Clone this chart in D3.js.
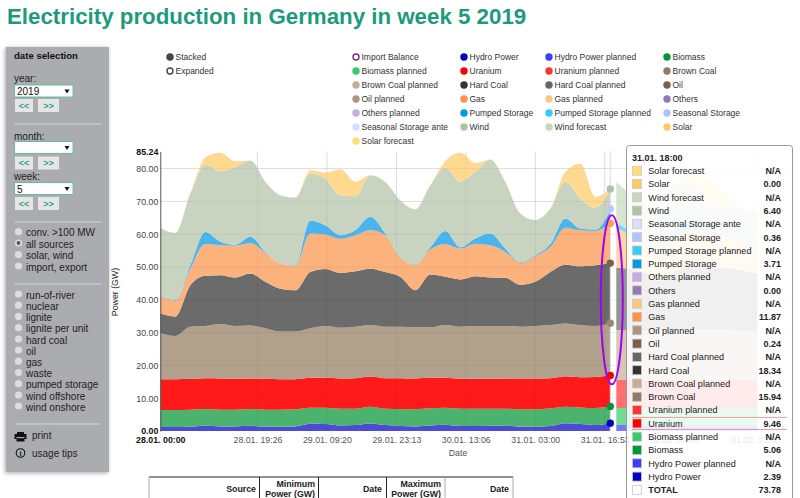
<!DOCTYPE html>
<html><head><meta charset="utf-8">
<script src="https://d3js.org/d3.v7.min.js"></script>
<style>html,body{margin:0;padding:0;background:#fff;overflow:hidden}svg{display:block;font-family:"Liberation Sans",Arial,sans-serif}</style>
</head><body><svg id="c" width="800" height="498"></svg>
<script>
// hours since 28.01. 00:00
const hours=[0,3,6,9,12,15,18,21,24,27,30,33,36,39,42,45,48,51,54,57,60,63,66,69,72,75,78,81,84,87,90];
const hydro=[1.2,1.2,1.3,1.6,1.4,1.4,1.6,1.3,1.3,1.4,2.2,2.1,1.7,1.8,2.3,1.8,1.5,1.4,1.7,1.9,1.5,1.5,1.6,1.6,1.3,1.3,1.5,2.4,2.1,1.8,2.39];
const biomass=[5.2,5.2,5.2,5.1,5.1,5.1,5.1,5.2,5.2,5.2,4.9,5.0,5.1,5.0,5.1,5.0,5.2,5.2,5.2,5.2,5.3,5.3,5.2,5.2,5.3,5.3,5.4,5.0,5.1,5.2,5.06];
const uranium=[9.4,9.4,9.4,9.4,9.5,9.4,9.3,9.4,9.3,9.2,9.1,9.1,9.2,9.3,9.2,9.3,9.4,9.4,9.3,9.1,9.1,9.1,9.1,9.2,9.4,9.4,9.2,9.3,9.2,9.5,9.46];
const brownCoal=[14.0,13.2,15.9,15.9,16.6,16.1,16.2,15.4,14.5,14.5,15.1,15.8,15.5,15.7,15.7,15.7,15.7,15.6,15.4,16.1,15.9,16.1,16.1,16,15.8,16,16.2,16.1,15.9,15.5,15.94];
const hardCoal=[6.1,5.9,12.6,15.3,14.9,14.8,15.8,14.2,13.1,12.6,17.2,17.4,16.7,16.9,17.2,16.7,15.2,11.3,16.1,14.7,14.4,15.2,14.8,14.7,12.8,13.5,16.2,17.9,17.9,18.5,18.34];
const gas=[5.3,4.8,5.1,9.7,9.1,9.7,9.3,8.8,7.6,7.5,11.7,10.5,10.4,11,11.7,11.2,5.8,7.8,7.6,9.9,9.4,9.9,9.8,7.9,6.7,7.8,7.6,11.3,11,10.5,12.11];
const pumped=[0.2,0.2,1.0,3.7,1.2,0.3,1.9,0.3,0,0.1,4.0,2.8,1.1,1.5,4.1,0.5,0.2,0.1,0.7,4.1,0.4,1.6,3.6,1.0,0.2,0.3,0.9,2.8,0.5,0.4,4.07];
const wind=[20.5,20.5,21.9,20.5,21.4,23.7,23.3,21.4,20.9,20.7,14.3,14.3,12.2,10.4,12.7,15.7,17.3,16.8,18.9,19.3,20,20.3,22.6,20.3,14.8,10.7,10.8,11.2,9.2,6.6,6.4];
const solar=[0,0,0,2.2,5.6,1.7,0,0,0,0,1,1.8,7.9,4.4,0,0,0,0,0,2,8.8,2.7,0,0,0,0,0,3,10.6,3.4,0];

const fcHours=[91.2,94,97,100,103,106,109,112,115,118,119.4];
const hydroPlanned=[1.8,1.8,1.8,1.8,1.8,1.8,1.8,1.8,1.8,1.8,1.8];
const biomassPlanned=[5.2,5.2,5.2,5.2,5.2,5.2,5.2,5.2,5.2,5.2,5.2];
const uraniumPlanned=[8.6,8.6,8.6,8.6,8.6,8.6,8.6,8.6,8.6,8.6,8.6];
const brownPlanned=[15.2,15.2,15.0,14.6,15.2,15.4,15.4,15.4,15.2,15.0,15.0];
const hardPlanned=[19.0,18.6,17.6,15.5,18.0,19.0,18.8,18.6,18.6,17.8,17.4];
const gasPlanned=[12.0,10.5,8.0,7.0,10.5,11.5,11.0,10.0,9.0,7.5,7.0];
const pumpedPlanned=[1.5,0.8,0.3,0.2,1.5,2.5,1.0,0.5,0.5,0.3,0.3];
const windForecast=[12.5,11.5,12.5,14.0,14.5,11.5,8.0,8.5,10.0,11.0,11.5];
const solarForecast=[0,0,0,0,0,2.5,7.5,5.0,0.5,0,0];

const seriesNames=["Hydro Power","Biomass","Uranium","Brown Coal","Hard Coal","Gas","Pumped Storage","Wind","Solar"];
const seriesData=[hydro,biomass,uranium,brownCoal,hardCoal,gas,pumped,wind,solar];
const seriesFill=["#4b4bd6","#4cb36e","#ff1a1a","#b0a08c","#6b6b6b","#fbb27c","#4ab4ec","#c8d4bf","#ffd98f"];
const plannedData=[hydroPlanned,biomassPlanned,uraniumPlanned,brownPlanned,hardPlanned,gasPlanned,pumpedPlanned,windForecast,solarForecast];
const plannedColor=["#3c3cff","#33cc66","#ff3333","#c4ae98","#666666","#ffc680","#33ccff","#c4d8bc","#ffdd77"];

const yTicks=[0,10,20,30,40,50,60,70,80];
const yMax=85.24;
const xTickHours=[0,19.43,33.32,47.22,61.1,75,88.88,102.77,119];
const xTickLabels=["28.01. 00:00","28.01. 19:26","29.01. 09:20","29.01. 23:13","30.01. 13:06","31.01. 03:00","31.01. 16:53","01.02. 06:46","01.02. 23:00"];

const legendColumns=[
 [["Stacked","#444",1],["Expanded","#444",0]],
 [["Import Balance","#7b2d8b",0],["Biomass planned","#33cc66",1],["Brown Coal planned","#c4ae98",1],["Oil planned","#ab9580",1],["Others planned","#c4aee0",1],["Seasonal Storage ante","#dcdcff",1],["Solar forecast","#ffdd77",1]],
 [["Hydro Power","#0000c8",1],["Uranium","#ff0000",1],["Hard Coal","#333333",1],["Gas","#ff9148",1],["Pumped Storage","#0099e6",1],["Wind","#aec4a4",1]],
 [["Hydro Power planned","#3c3cff",1],["Uranium planned","#ff3333",1],["Hard Coal planned","#666666",1],["Gas planned","#ffc680",1],["Pumped Storage planned","#33ccff",1],["Wind forecast","#c4d8bc",1]],
 [["Biomass","#009933",1],["Brown Coal","#8f7a66",1],["Oil","#7a6048",1],["Others","#9478b4",1],["Seasonal Storage","#adc4ff",1],["Solar","#ffc966",1]]
];
const legendX=[170,356,464,549,667];

const tipTitle="31.01. 18:00";
const tipRows=[["Solar forecast","#ffdd77","N/A"],["Solar","#ffc966","0.00"],["Wind forecast","#c4d8bc","N/A"],["Wind","#aec4a4","6.40"],["Seasonal Storage ante","#dcdcff","N/A"],["Seasonal Storage","#adc4ff","0.36"],["Pumped Storage planned","#33ccff","N/A"],["Pumped Storage","#0099e6","3.71"],["Others planned","#c4aee0","N/A"],["Others","#9478b4","0.00"],["Gas planned","#ffc680","N/A"],["Gas","#ff9148","11.87"],["Oil planned","#ab9580","N/A"],["Oil","#7a6048","0.24"],["Hard Coal planned","#666666","N/A"],["Hard Coal","#333333","18.34"],["Brown Coal planned","#c4ae98","N/A"],["Brown Coal","#8f7a66","15.94"],["Uranium planned","#ff3333","N/A"],["Uranium","#ff0000","9.46"],["Biomass planned","#33cc66","N/A"],["Biomass","#009933","5.06"],["Hydro Power planned","#3c3cff","N/A"],["Hydro Power","#0000c8","2.39"],["TOTAL","#ffffff","73.78"]];

const radioTop=["conv. >100 MW","all sources","solar, wind","import, export"];
const radioBottom=["run-of-river","nuclear","lignite","lignite per unit","hard coal","oil","gas","waste","pumped storage","wind offshore","wind onshore"];

const svg=d3.select("#c");
const x=d3.scaleLinear().domain([0,120]).range([160.3,760.3]);
const y=d3.scaleLinear().domain([0,yMax]).range([431,151.4]);

// title
svg.append("text").attr("x",7).attr("y",24).attr("font-size",22.3).attr("font-weight","bold").attr("fill","#1b9b7b").text("Electricity production in Germany in week 5 2019");

// side panel
const defs=svg.append("defs");
const f=defs.append("filter").attr("id","sh").attr("x","-10%").attr("y","-5%").attr("width","120%").attr("height","110%");
f.append("feDropShadow").attr("dx",-1).attr("dy",1).attr("stdDeviation",2).attr("flood-color","#000").attr("flood-opacity",.35);
const p=svg.append("g");
p.append("rect").attr("x",6).attr("y",47).attr("width",103).attr("height",425).attr("fill","#abacb0").attr("filter","url(#sh)");
const T=(t,px,py,o={})=>p.append("text").attr("x",px).attr("y",py).attr("font-size",o.s||10).attr("font-weight",o.b?"bold":null).attr("fill",o.c||"#222").text(t);
T("date selection",14,59,{s:9.6,b:1,c:"#111"});
T("year:",14,82);T("month:",14,139.5);T("week:",14,180);
function sel(py,v){
 p.append("rect").attr("x",14.5).attr("y",py).attr("width",58.5).attr("height",12).attr("fill","#fff").attr("stroke","#62bfa2").attr("stroke-width",1);
 if(v)T(v,17,py+10,{s:10,c:"#111"});
 p.append("path").attr("d",`M64.5 ${py+4.5}h5l-2.5 4z`).attr("fill","#111");
}
function btns(py){
 [[15,18,"<<"],[38,21,">>"]].forEach(([bx,w,t])=>{
  p.append("rect").attr("x",bx).attr("y",py).attr("width",w).attr("height",13).attr("fill","#e6e6e6");
  p.append("text").attr("x",bx+w/2).attr("y",py+9.5).attr("text-anchor","middle").attr("font-size",9).attr("font-weight","bold").attr("fill","#2f9f80").text(t);
 });
}
sel(85,"2019");btns(99);sel(141.5,"");btns(156.5);sel(182.5,"5");btns(197);
[124,222,284,424].forEach(v=>p.append("line").attr("x1",14.5).attr("x2",101).attr("y1",v).attr("y2",v).attr("stroke","#d4d4d6"));
function radio(labels,ys,on){
 labels.forEach((l,i)=>{
  p.append("circle").attr("cx",18.5).attr("cy",ys[i]-1).attr("r",3.6).attr("fill","#dcdcde");
  if(i===on)p.append("circle").attr("cx",18.5).attr("cy",ys[i]-1).attr("r",1.9).attr("fill","#555");
  T(l,26,ys[i]+3.5);
 });
}
radio(radioTop,[232.7,244,255.7,267],1);
radio(radioBottom,[295,306.2,317.4,328.7,340,351,362.2,373.5,384.7,396,407],-1);
p.append("path").attr("d","M17 432h7v2h2.5v5h-2v2.5h-8v-2.5h-2v-5h2.5z").attr("fill","#111");
p.append("rect").attr("x",16.5).attr("y",437).attr("width",8).attr("height",1.2).attr("fill","#abacb0");
T("print",32,438.5);
p.append("circle").attr("cx",20.5).attr("cy",453).attr("r",4.3).attr("fill","none").attr("stroke","#111").attr("stroke-width",1.1);
p.append("text").attr("x",20.5).attr("y",456).attr("text-anchor","middle").attr("font-size",7.5).attr("font-weight","bold").attr("fill","#111").text("i");
T("usage tips",32,457);

// legend
const lg=svg.append("g");
legendColumns.forEach((col,ci)=>col.forEach((d,ri)=>{
 const cy=57+ri*14,cx=legendX[ci];
 lg.append("circle").attr("cx",cx).attr("cy",cy).attr("r",d[2]?3.7:3).attr("fill",d[2]?d[1]:"#fff").attr("stroke",d[2]?"none":d[1]).attr("stroke-width",1.4);
 lg.append("text").attr("x",cx+5.5).attr("y",cy+3).attr("font-size",8.5).attr("fill","#333").text(d[0]);
}));

// grid
const grid=svg.append("g").attr("stroke","#e9e9e9").attr("stroke-width",1);
yTicks.slice(1).forEach(v=>grid.append("line").attr("x1",x(0)).attr("x2",790).attr("y1",y(v)).attr("y2",y(v)));
xTickHours.slice(1).forEach(h=>grid.append("line").attr("x1",x(h)).attr("x2",x(h)).attr("y1",y(yMax)).attr("y2",y(0)));

// areas
function stackOf(hs,arrs){
 const rows=hs.map((h,i)=>{const r={h};arrs.forEach((a,k)=>r[k]=a[i]);return r;});
 return d3.stack().keys(arrs.map((_,k)=>k))(rows);
}
const area=d3.area().x(d=>x(d.data.h)).y0(d=>y(d[0])).y1(d=>y(d[1])).curve(d3.curveMonotoneX);
svg.append("g").selectAll("path").data(stackOf(fcHours,plannedData)).join("path").attr("d",area).attr("fill",(d,i)=>plannedColor[i]).attr("fill-opacity",.7);
const main=stackOf(hours,seriesData);
svg.append("g").selectAll("path").data(main).join("path").attr("d",area).attr("fill",(d,i)=>seriesFill[i]);
const over=svg.append("g").attr("stroke","#000").attr("stroke-opacity",.05);
yTicks.slice(1).forEach(v=>over.append("line").attr("x1",x(0)).attr("x2",x(90)).attr("y1",y(v)).attr("y2",y(v)));
xTickHours.slice(1,7).forEach(h=>over.append("line").attr("x1",x(h)).attr("x2",x(h)).attr("y1",y(yMax)).attr("y2",y(0)));

// cursor
svg.append("line").attr("x1",x(90)).attr("x2",x(90)).attr("y1",y(yMax)).attr("y2",y(0)).attr("stroke","#dcdcdc");
const last=hours.length-1;
const dot=(v,c)=>svg.append("circle").attr("cx",x(90)).attr("cy",y(v)).attr("r",3.7).attr("fill",c);
const topOf=k=>main[k][last][1];
dot(topOf(7),"#aec0a6");dot(topOf(6)+.36,"#b4c8fa");dot(topOf(5),"#ff9a58");dot(topOf(4),"#77614c");dot(topOf(3),"#9b8773");dot(topOf(2),"#f00000");dot(topOf(1),"#0a9238");dot(topOf(0),"#0000c0");

// axes
const yAxis=d3.axisLeft(y).tickValues(yTicks.concat([yMax])).tickFormat(d3.format(".2f")).tickSize(0).tickPadding(2);
const ya=svg.append("g").attr("transform",`translate(${x(0)},0)`).call(yAxis);
ya.select(".domain").attr("stroke","#555").attr("stroke-width",1);
ya.selectAll("text").attr("font-family",'"Liberation Sans",Arial,sans-serif').attr("font-size",8.8).attr("font-weight",d=>d===yMax||d===0?"bold":null).attr("fill",d=>d===yMax||d===0?"#111":"#444");
const xAxis=d3.axisBottom(x).tickValues(xTickHours).tickFormat((d,i)=>xTickLabels[i]).tickSize(0).tickPadding(6);
const xa=svg.append("g").attr("transform",`translate(0,431)`).call(xAxis);
xa.select(".domain").remove();
xa.selectAll("text").attr("font-family",'"Liberation Sans",Arial,sans-serif').attr("font-size",8.8).attr("fill",(d,i)=>i?"#555":"#111").attr("font-weight",(d,i)=>i?null:"bold");
svg.append("text").attr("x",458).attr("y",456).attr("text-anchor","middle").attr("font-size",8.8).attr("fill","#555").text("Date");
svg.append("text").attr("transform","translate(118,292) rotate(-90)").attr("text-anchor","middle").attr("font-size",8.8).attr("fill","#222").text("Power (GW)");

// highlight ellipse
svg.append("ellipse").attr("cx",x(90)+1.5).attr("cy",(y(16.9)+y(65.5))/2+4).attr("rx",11).attr("ry",84.5).attr("fill","none").attr("stroke","#a400f0").attr("stroke-width",2);

// table header
const tb=svg.append("g");
const colX=[149,259.5,318.5,386.5,445,513];
tb.append("line").attr("x1",149).attr("x2",513).attr("y1",477).attr("y2",477).attr("stroke","#222");
colX.forEach((v,i)=>tb.append("line").attr("x1",v).attr("x2",v).attr("y1",477).attr("y2",498).attr("stroke",i===0||i===4||i===5?"#aaa":"#222"));
const th=(t,px,py)=>tb.append("text").attr("x",px).attr("y",py).attr("text-anchor","end").attr("font-size",8.8).attr("font-weight","bold").attr("fill","#222").text(t);
th("Source",256,491.5);th("Minimum",315,486.5);th("Power (GW)",315,496.5);th("Date",382,491.5);th("Maximum",441,486.5);th("Power (GW)",441,496.5);th("Date",509,491.5);

// tooltip
const tip=svg.append("g");
tip.append("rect").attr("x",626.5).attr("y",145.5).attr("width",166).attr("height",360).attr("rx",3).attr("fill","#fff").attr("fill-opacity",.86).attr("stroke","#999");
tip.append("text").attr("x",632).attr("y",160.5).attr("font-size",9).attr("font-weight","bold").attr("fill","#222").text(tipTitle);
tipRows.forEach((r,i)=>{
 const cy=170.7+i*13.3;
 tip.append("rect").attr("x",632.5).attr("y",cy-4.5).attr("width",9).attr("height",9).attr("fill",r[1]).attr("stroke","#c8c8c8").attr("stroke-width",.8);
 tip.append("text").attr("x",648.3).attr("y",cy+3.3).attr("font-size",9.1).attr("font-weight",r[0]==="TOTAL"?"bold":null).attr("fill","#222").text(r[0]);
 tip.append("text").attr("x",781).attr("y",cy+3.3).attr("text-anchor","end").attr("font-size",9).attr("font-weight","bold").attr("fill","#222").text(r[2]);
});
const ur=170.7+19*13.3;
tip.append("line").attr("x1",632).attr("x2",787).attr("y1",ur-6).attr("y2",ur-6).attr("stroke","#e8a0a0");
tip.append("line").attr("x1",632).attr("x2",787).attr("y1",ur+6).attr("y2",ur+6).attr("stroke","#d89aa8");
</script></body></html>
